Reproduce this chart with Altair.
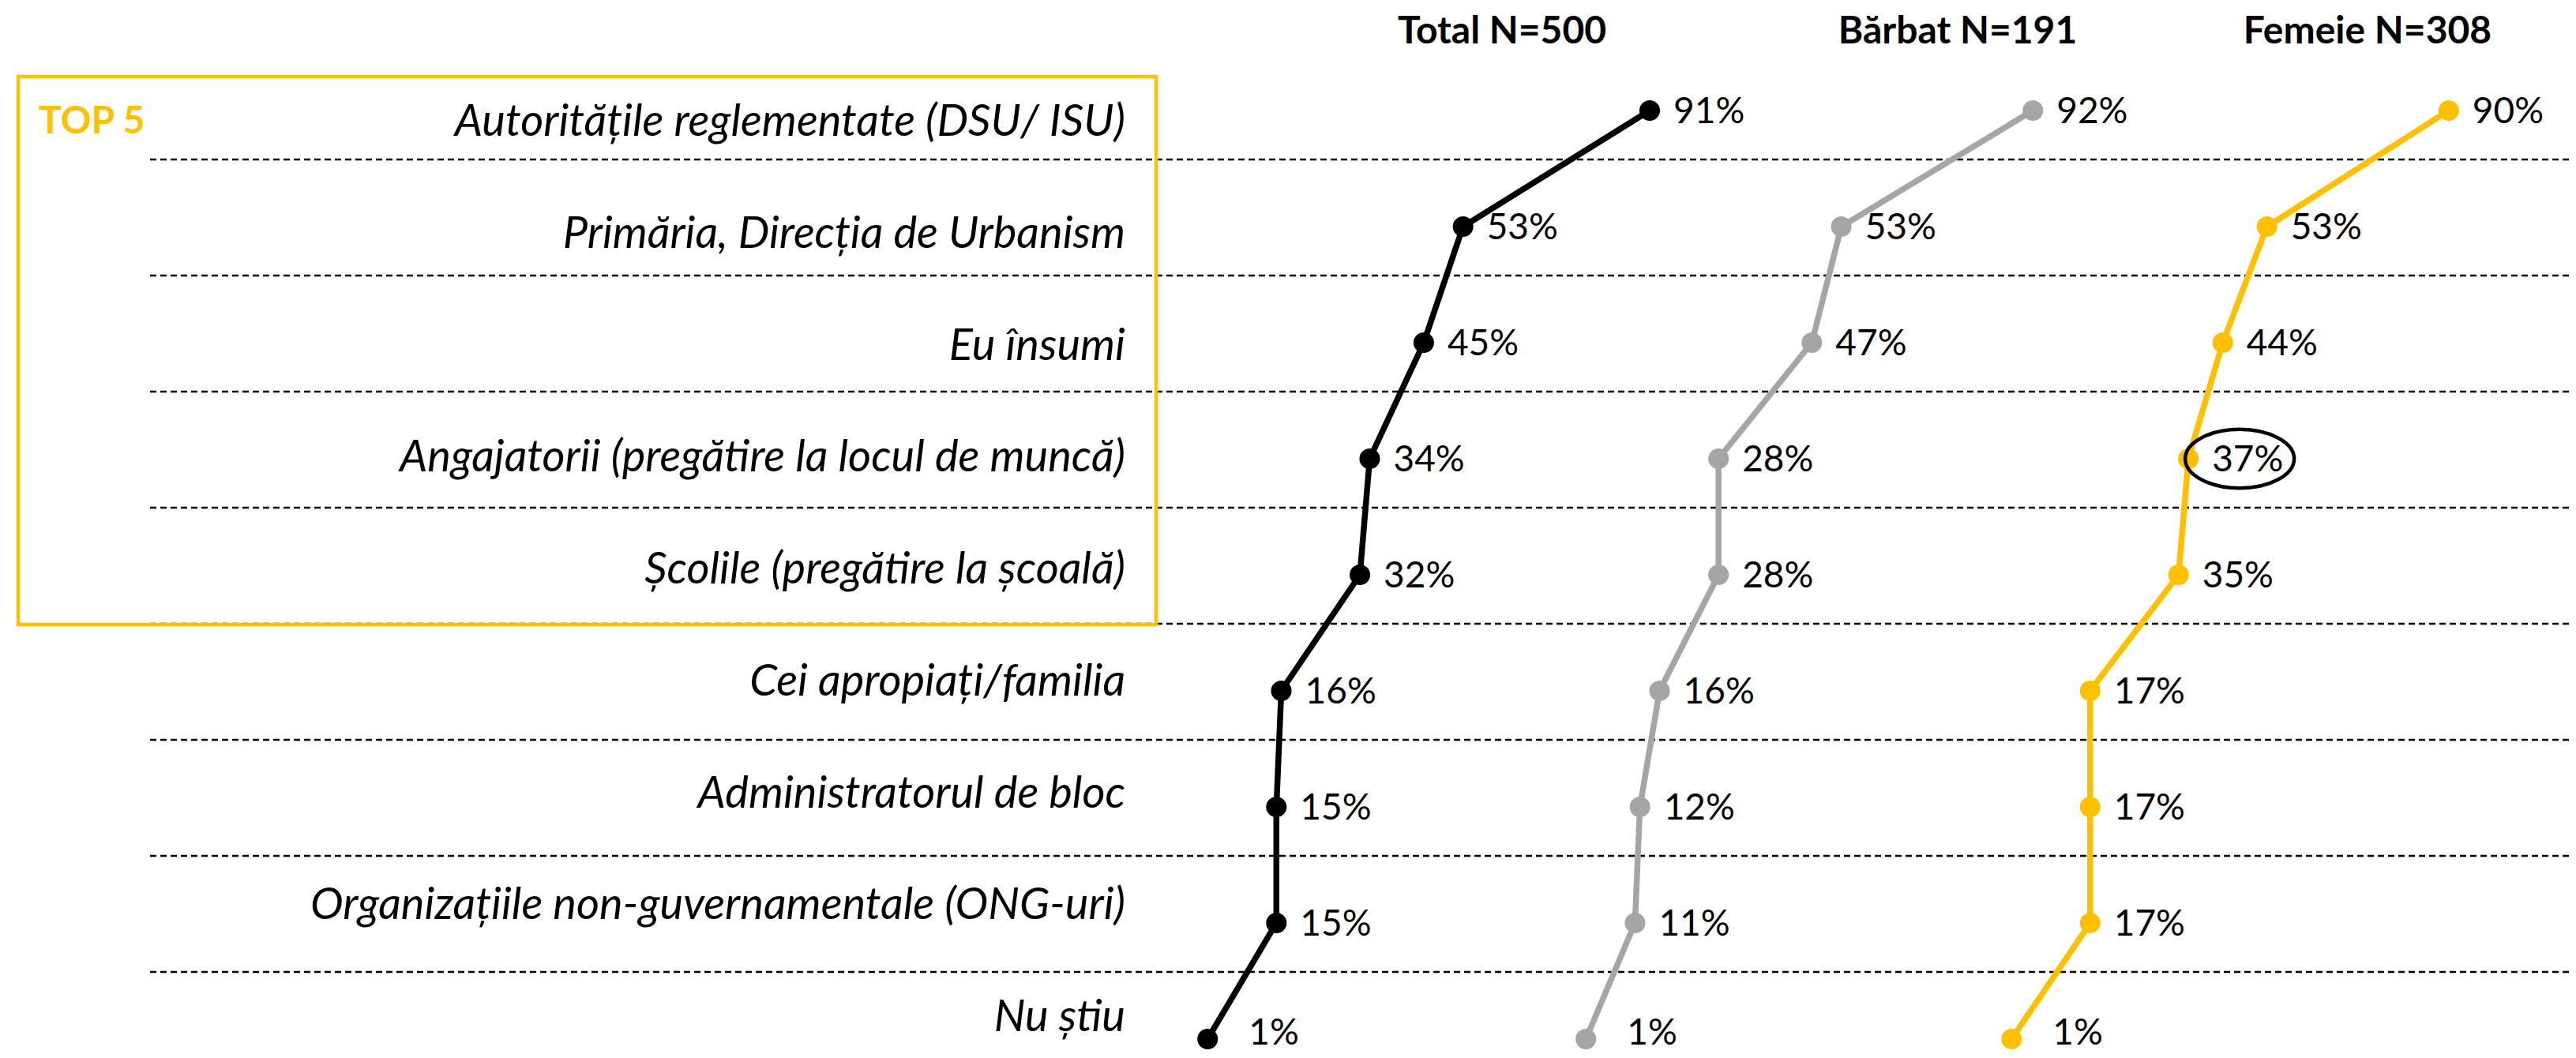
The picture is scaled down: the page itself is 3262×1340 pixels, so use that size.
import altair as alt
import pandas as pd

# ---------------- data ----------------
categories = [
    "Autoritățile reglementate (DSU/ ISU)",
    "Primăria, Direcția de Urbanism",
    "Eu însumi",
    "Angajatorii (pregătire la locul de muncă)",
    "Școlile (pregătire la școală)",
    "Cei apropiați/familia",
    "Administratorul de bloc",
    "Organizațiile non-guvernamentale (ONG-uri)",
    "Nu știu",
]
total = [91, 53, 45, 34, 32, 16, 15, 15, 1]
barbat = [92, 53, 47, 28, 28, 16, 12, 11, 1]
femeie = [90, 53, 44, 37, 35, 17, 17, 17, 1]
series_names = ["Total N=500", "Bărbat N=191", "Femeie N=308"]
series_values = [total, barbat, femeie]
series_colors = ["#000000", "#A5A5A5", "#FFC000"]
top_label = "TOP 5"
highlight_series = 2
highlight_row = 3

# ---------------- layout ----------------
W = 3246
PLOT_H = 1176
PAD_TOP = 132
PAD_BOTTOM = 16
ZERO_PX = 1515          # where 0% of the first panel lies
PX_PER_PCT = 6.22
PANEL_OFFSETS = [0, 479, 1018]
HEADER_X = [1894, 2471, 2990]
FONT = "Lato"

xscale = alt.Scale(domain=[-ZERO_PX / PX_PER_PCT, (W - ZERO_PX) / PX_PER_PCT], nice=False, zero=False)
yscale = alt.Scale(type="point", domain=categories, padding=0)


def Y():
    return alt.Y("cat:N", scale=yscale, axis=None, sort=categories)


layers = []

# dashed separators
sep_df = pd.DataFrame({"cat": categories[:-1]})
layers.append(
    alt.Chart(sep_df)
    .mark_rule(strokeDash=[8, 5], strokeWidth=2.5, color="#000000", yOffset=62)
    .encode(y=Y(), x=alt.value(182), x2=alt.value(W))
)

# TOP 5 box
box_df = pd.DataFrame({"t": [top_label]})
layers.append(
    alt.Chart(box_df)
    .mark_rect(filled=False, color="#FFC000", strokeWidth=4.5)
    .encode(x=alt.value(15), x2=alt.value(1456), y=alt.value(-43), y2=alt.value(651))
)
layers.append(
    alt.Chart(box_df)
    .mark_text(align="left", baseline="alphabetic", font=FONT, fontWeight="bold",
               fontSize=48, color="#FFC000")
    .encode(x=alt.value(41), y=alt.value(29), text="t:N")
)

for i, (name, vals, col) in enumerate(zip(series_names, series_values, series_colors)):
    off = PANEL_OFFSETS[i]
    df = pd.DataFrame({
        "cat": categories,
        "v": vals,
        "idx": list(range(len(categories))),
        "lab": [f"{v}%" for v in vals],
    })
    base = alt.Chart(df).encode(x=alt.X("v:Q", scale=xscale, axis=None), y=Y())
    layers.append(base.mark_line(color=col, strokeWidth=7.5, xOffset=off).encode(order="idx:Q"))
    layers.append(base.mark_circle(color=col, size=680, opacity=1, xOffset=off))
    layers.append(
        base.transform_filter(alt.datum.idx < len(categories) - 1)
        .mark_text(align="left", baseline="middle", dx=30, dy=2, font=FONT, fontSize=46,
                   color="#000000", xOffset=off)
        .encode(text="lab:N")
    )
    layers.append(
        base.transform_filter(alt.datum.idx == len(categories) - 1)
        .mark_text(align="left", baseline="middle", dx=52, dy=-7, font=FONT, fontSize=46,
                   color="#000000", xOffset=off)
        .encode(text="lab:N")
    )
    # header
    layers.append(
        alt.Chart(pd.DataFrame({"t": [name]}))
        .mark_text(align="center", baseline="alphabetic", font=FONT, fontWeight="bold",
                   fontSize=48, color="#000000")
        .encode(x=alt.value(HEADER_X[i]), y=alt.value(-85), text="t:N")
    )

# highlight ellipse around the circled value
hl_df = pd.DataFrame({
    "cat": [categories[highlight_row]],
    "v": [series_values[highlight_series][highlight_row]],
})
ellipse = "M -1 0 A 1 0.54 0 1 1 1 0 A 1 0.54 0 1 1 -1 0 Z"
layers.append(
    alt.Chart(hl_df)
    .mark_point(shape=ellipse, size=138 * 138, filled=False, stroke="#000000",
                strokeWidth=4.5, opacity=1, xOffset=PANEL_OFFSETS[highlight_series] + 65)
    .encode(x=alt.X("v:Q", scale=xscale, axis=None), y=Y())
)

data_layer = alt.layer(*layers)

# category labels (own vertical placement)
lab_df = pd.DataFrame({"cat": categories})
labels = (
    alt.Chart(lab_df)
    .mark_text(align="right", baseline="alphabetic", font=FONT, fontStyle="italic",
               fontSize=56, color="#000000")
    .encode(
        x=alt.value(1417),
        y=alt.Y("cat:N",
                scale=alt.Scale(type="point", domain=categories, range=[32, 1166], padding=0),
                axis=None, sort=categories),
        text="cat:N",
    )
)

chart = (
    alt.layer(data_layer, labels)
    .resolve_scale(y="independent")
    .properties(
        width=W,
        height=PLOT_H,
        padding={"left": 0, "right": 0, "top": PAD_TOP, "bottom": PAD_BOTTOM},
        autosize=alt.AutoSizeParams(type="none"),
        background="#FFFFFF",
    )
    .configure_view(strokeWidth=0)
)

chart.save("out.html", embed_options={"renderer": "svg", "actions": False})
